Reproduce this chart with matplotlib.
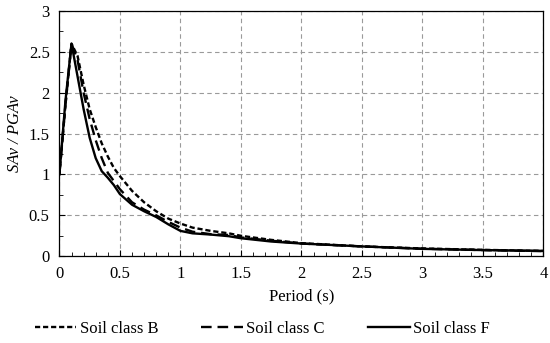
import matplotlib
matplotlib.use("Agg")
from matplotlib import pyplot as plt
from matplotlib.ticker import MultipleLocator, FuncFormatter

plt.rcParams['font.family'] = ['Liberation Serif', 'DejaVu Serif']

period = [0, 0.05, 0.1, 0.15, 0.2, 0.25, 0.3, 0.35, 0.4, 0.45, 0.5, 0.6, 0.7, 0.8, 0.9,
          1.0, 1.1, 1.25, 1.4, 1.5, 1.75, 2.0, 2.5, 3.0, 3.5, 4.0]
soil_b = [1.0, 1.85, 2.6, 2.45, 2.1, 1.8, 1.58, 1.38, 1.22, 1.08, 0.98, 0.8, 0.66, 0.55, 0.46,
          0.40, 0.35, 0.31, 0.28, 0.25, 0.2, 0.16, 0.12, 0.095, 0.078, 0.065]
soil_c = [1.0, 1.85, 2.6, 2.4, 2.0, 1.68, 1.42, 1.2, 1.02, 0.92, 0.82, 0.66, 0.57, 0.5, 0.42,
          0.35, 0.30, 0.27, 0.26, 0.23, 0.19, 0.155, 0.12, 0.092, 0.075, 0.062]
soil_f = [1.0, 1.9, 2.6, 2.2, 1.8, 1.45, 1.2, 1.04, 0.96, 0.87, 0.76, 0.63, 0.55, 0.48, 0.39,
          0.31, 0.28, 0.265, 0.245, 0.22, 0.18, 0.155, 0.12, 0.09, 0.075, 0.065]

fig = plt.figure(figsize=(5.5, 3.43), dpi=100)
ax = fig.add_axes([0.108, 0.253, 0.88, 0.715])

ax.plot(period, soil_b, color='black', lw=1.7, dashes=(2.2, 1.2), label='Soil class B')
ax.plot(period, soil_c, color='black', lw=1.7, dashes=(4.5, 2.5), label='Soil class C')
ax.plot(period, soil_f, color='black', lw=1.7, label='Soil class F')

ax.set_xlim(0, 4)
ax.set_ylim(0, 3)
ax.xaxis.set_major_locator(MultipleLocator(0.5))
ax.xaxis.set_minor_locator(MultipleLocator(0.1))
ax.yaxis.set_major_locator(MultipleLocator(0.5))
ax.yaxis.set_minor_locator(MultipleLocator(0.25))
ax.xaxis.set_major_formatter(FuncFormatter(lambda v, p: f"{v:g}"))
ax.yaxis.set_major_formatter(FuncFormatter(lambda v, p: f"{v:g}"))
ax.tick_params(which='both', direction='in', labelsize=12)
ax.tick_params(which='major', length=4, pad=7)
ax.tick_params(which='minor', length=3)
ax.grid(True, which='major', color='#9a9a9a', ls=(0, (4, 3)), lw=0.8)
for s in ax.spines.values():
    s.set_linewidth(0.9)

ax.set_xlabel('Period (s)', fontsize=12, labelpad=5)
ax.set_ylabel('SAv / PGAv', fontsize=12, style='italic')
fig.legend(*ax.get_legend_handles_labels(), loc='lower center', bbox_to_anchor=(0.477, -0.025),
           ncol=3, frameon=False, fontsize=12, handlelength=2.5, handletextpad=0.2,
           columnspacing=2.6)

fig.savefig('out.png', dpi=100)
